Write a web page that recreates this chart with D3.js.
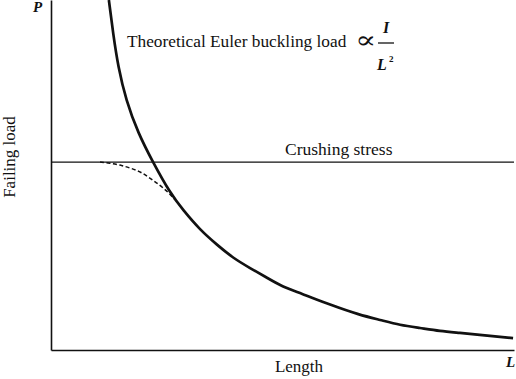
<!DOCTYPE html>
<html><head><meta charset="utf-8">
<script src="https://cdn.jsdelivr.net/npm/d3@7"></script>
<style>body{margin:0;background:#fff}svg{display:block}text{font-family:"Liberation Serif","Times New Roman",serif;fill:#111}</style>
</head><body><svg id="c" width="516" height="379"></svg>
<script>
// Data (arbitrary units, 0-100 on both axes)
const eulerL = [12.5,13.4,14.5,16.2,18.8,22.0,25.7,28.5,32.2,35.9,39.3,43.0,46.7,50.1,53.8,60.3,66.7,71.1,75.4,79.7,84.0,88.3,92.7,99.8];
const eulerP = [100,90.6,80.9,71.4,62.0,53.7,44.9,40.0,34.3,30.0,26.3,23.4,20.6,18.0,16.3,12.9,10.0,8.6,7.1,6.3,5.4,4.9,4.3,3.4];
const actualL = [10.6,12.7,14.9,17.1,19.4,21.4,23.5,25.3,26.8];
const actualP = [53.7,53.4,52.9,52.0,50.9,49.1,47.1,45.1,42.9];
const crushingP = 53.7;
const labels = {x:"Length", y:"Failing load", xSym:"L", ySym:"P", euler:"Theoretical Euler buckling load", crush:"Crushing stress"};

const svg = d3.select("#c");
const x = d3.scaleLinear().domain([0,100]).range([51,514]);
const y = d3.scaleLinear().domain([0,100]).range([350,0]);

// axes
svg.append("g").attr("transform","translate(0,350)")
  .call(d3.axisBottom(x).ticks(0).tickSizeOuter(0))
  .call(g=>g.select(".domain").attr("stroke","#111").attr("stroke-width",1.6));
svg.append("g").attr("transform","translate(51,0)")
  .call(d3.axisLeft(y).ticks(0).tickSizeOuter(0))
  .call(g=>g.select(".domain").attr("stroke","#111").attr("stroke-width",1.6));

// crushing stress line
svg.append("line").attr("x1",x(0)).attr("x2",x(100)).attr("y1",y(crushingP)).attr("y2",y(crushingP))
  .attr("stroke","#111").attr("stroke-width",1.3);

const line = d3.line().x(d=>x(d[0])).y(d=>y(d[1])).curve(d3.curveBasis);
svg.append("path").datum(eulerL.map((l,i)=>[l,eulerP[i]])).attr("d",line)
  .attr("fill","none").attr("stroke","#111").attr("stroke-width",2.7);
svg.append("path").datum(actualL.map((l,i)=>[l,actualP[i]])).attr("d",line)
  .attr("fill","none").attr("stroke","#111").attr("stroke-width",1.5).attr("stroke-dasharray","4,2.5");

// labels
svg.append("text").attr("x",127).attr("y",47).attr("font-size",17.3).text(labels.euler);
svg.append("text").attr("transform","translate(355,48) scale(1.3,1)").attr("font-size",24).attr("style","font-family:'DejaVu Serif',serif").text("\u221D");
svg.append("text").attr("x",386).attr("y",33).attr("font-size",16).attr("font-style","italic").attr("font-weight","bold").attr("text-anchor","middle").text("I");
svg.append("line").attr("x1",378).attr("x2",394).attr("y1",43).attr("y2",43).attr("stroke","#111").attr("stroke-width",1.3);
svg.append("text").attr("x",377).attr("y",70).attr("font-size",16).attr("font-style","italic").attr("font-weight","bold").text("L");
svg.append("text").attr("x",389).attr("y",62).attr("font-size",9).attr("font-weight","bold").text("2");
svg.append("text").attr("x",285).attr("y",155).attr("font-size",17.5).text(labels.crush);
svg.append("text").attr("x",299).attr("y",372).attr("font-size",17).attr("text-anchor","middle").text(labels.x);
svg.append("text").attr("transform","translate(15,157) rotate(-90)").attr("font-size",17).attr("text-anchor","middle").text(labels.y);
svg.append("text").attr("x",33).attr("y",12).attr("font-size",15).attr("font-style","italic").attr("font-weight","bold").text(labels.ySym);
svg.append("text").attr("x",506).attr("y",367).attr("font-size",15).attr("font-style","italic").attr("font-weight","bold").text(labels.xSym);
</script></body></html>
